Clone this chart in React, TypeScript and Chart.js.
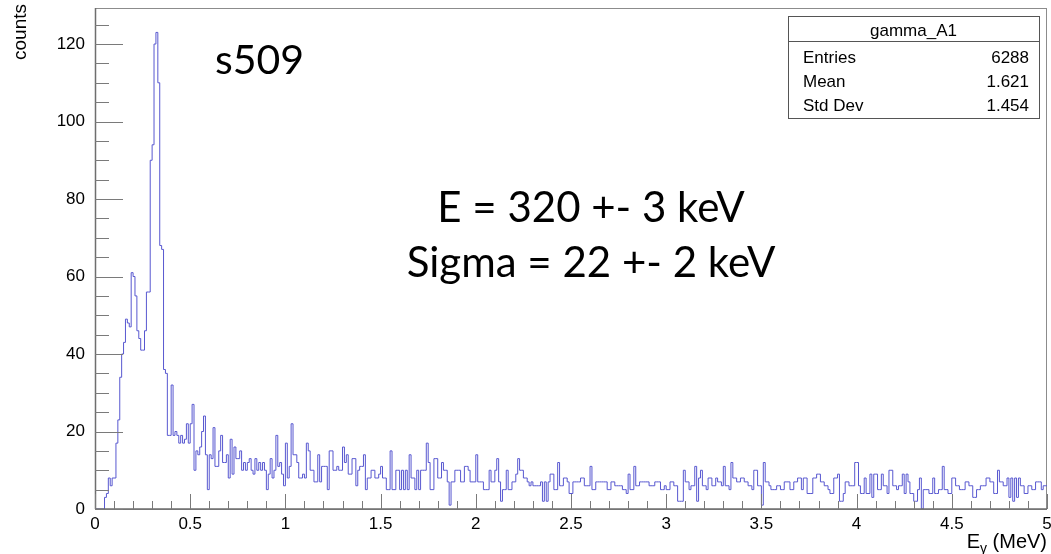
import React, { useEffect, useRef } from 'react';
import { Chart, registerables } from 'chart.js';

Chart.register(...registerables);

// Histogram gamma_A1: 500 bins of 0.01 MeV from 0 to 5 MeV
const binLow = 0;
const binWidth = 0.01;
const counts: number[] = [
  0, 0, 0, 0, 0, 3, 4, 8, 6, 8,
  8, 17, 23, 34, 40, 43, 49, 48, 47, 61,
  60, 55, 46, 44, 41, 41, 46, 56, 56, 90,
  94, 120, 123, 110, 68, 67, 36, 35, 19, 19,
  32, 19, 20, 19, 17, 19, 17, 18, 22, 17,
  22, 27, 10, 15, 14, 16, 20, 24, 14, 5,
  14, 13, 21, 11, 11, 15, 19, 12, 12, 14,
  8, 18, 9, 16, 13, 13, 15, 10, 12, 10,
  12, 13, 10, 9, 13, 10, 12, 10, 12, 10,
  5, 9, 13, 8, 10, 19, 11, 12, 9, 6,
  17, 8, 11, 22, 14, 14, 12, 8, 8, 9,
  8, 17, 15, 10, 10, 7, 7, 14, 7, 11,
  11, 11, 5, 15, 15, 10, 10, 11, 10, 10,
  16, 12, 14, 9, 9, 13, 13, 6, 10, 11,
  11, 14, 5, 8, 8, 10, 10, 8, 8, 9,
  11, 8, 8, 5, 5, 15, 5, 5, 10, 10,
  5, 10, 5, 10, 5, 14, 8, 8, 5, 10,
  5, 10, 10, 10, 17, 12, 5, 5, 13, 13,
  8, 8, 12, 10, 10, 7, 1, 7, 7, 10,
  10, 10, 7, 7, 11, 11, 10, 7, 7, 7,
  14, 7, 7, 7, 5, 5, 5, 10, 7, 7,
  10, 13, 7, 2, 5, 5, 10, 5, 5, 7,
  7, 9, 13, 10, 10, 8, 8, 7, 6, 7,
  6, 6, 6, 6, 7, 2, 7, 2, 7, 9,
  9, 5, 5, 12, 6, 6, 8, 8, 7, 4,
  4, 7, 7, 7, 7, 8, 8, 6, 6, 6,
  11, 5, 5, 7, 7, 7, 7, 7, 7, 5,
  5, 7, 7, 6, 6, 6, 6, 5, 5, 4,
  9, 5, 5, 11, 6, 6, 7, 7, 7, 7,
  7, 6, 6, 6, 7, 7, 7, 5, 5, 6,
  5, 5, 7, 7, 6, 6, 2, 2, 2, 10,
  7, 7, 5, 6, 6, 11, 2, 8, 10, 6,
  6, 5, 8, 8, 6, 6, 8, 7, 7, 6,
  11, 6, 6, 5, 12, 8, 8, 7, 7, 8,
  8, 7, 7, 6, 6, 5, 10, 10, 6, 6,
  1, 12, 7, 7, 6, 5, 5, 5, 6, 6,
  5, 5, 7, 7, 7, 5, 5, 7, 7, 8,
  8, 5, 8, 8, 4, 4, 4, 8, 8, 9,
  9, 7, 7, 6, 6, 5, 4, 4, 8, 8,
  9, 2, 2, 4, 7, 7, 6, 6, 6, 12,
  12, 6, 4, 4, 8, 4, 4, 9, 3, 9,
  9, 5, 5, 9, 6, 6, 4, 10, 10, 6,
  6, 5, 6, 6, 9, 4, 9, 7, 4, 4,
  2, 2, 5, 8, 0, 5, 5, 5, 4, 4,
  8, 4, 4, 5, 5, 11, 5, 5, 4, 4,
  8, 8, 6, 6, 5, 5, 5, 7, 7, 6,
  6, 3, 3, 5, 5, 6, 6, 6, 8, 8,
  7, 7, 4, 4, 10, 7, 7, 6, 6, 8,
  3, 8, 2, 8, 3, 8, 6, 6, 4, 4,
  6, 6, 5, 5, 7, 7, 7, 5, 6, 6,
];

const xMin = 0;
const xMax = 5;
const yMin = 0;
const yMax = 129.3;
const xTickValues = [0, 0.5, 1, 1.5, 2, 2.5, 3, 3.5, 4, 4.5, 5];
const xTickLabels = ['0', '0.5', '1', '1.5', '2', '2.5', '3', '3.5', '4', '4.5', '5'];
const yTickValues = [0, 20, 40, 60, 80, 100, 120];
const yTickLabels = ['0', '20', '40', '60', '80', '100', '120'];
const xMinorStep = 0.1;
const yMinorStep = 5;

const statsTitle = 'gamma_A1';
const statsNames = ['Entries', 'Mean', 'Std Dev'];
const statsValues = ['6288', '1.621', '1.454'];

const runLabel = 's509';
const fitLines = ['E = 320 +- 3 keV', 'Sigma = 22 +- 2 keV'];
const yTitle = 'counts';

const ROOT_FONT = '"Liberation Sans", Arial, sans-serif';
const NOTE_FONT = 'Lato, "Open Sans", sans-serif';

const rootDecor = {
  id: 'rootDecor',
  beforeDatasetsDraw(chart: any) {
    const { ctx, chartArea } = chart;
    const { left, right, top, bottom } = chartArea;
    ctx.save();
    ctx.strokeStyle = '#8c8c8c';
    ctx.lineWidth = 1;
    ctx.strokeRect(left + 0.5, top + 0.5, right - left - 1, bottom - top);
    ctx.restore();
  },
  afterDatasetsDraw(chart: any) {
    const { ctx, chartArea, scales } = chart;
    const { left, right, top, bottom } = chartArea;
    const xs = scales.x;
    const ys = scales.y;
    ctx.save();
    // axes
    ctx.strokeStyle = '#6e6e6e';
    ctx.lineWidth = 1.5;
    ctx.beginPath();
    ctx.moveTo(left, bottom);
    ctx.lineTo(right, bottom);
    ctx.moveTo(left + 0.5, bottom);
    ctx.lineTo(left + 0.5, top);
    ctx.stroke();
    // ticks
    ctx.strokeStyle = '#7a7a7a';
    ctx.lineWidth = 1;
    ctx.beginPath();
    for (let v = xMin; v <= xMax + 1e-9; v += xMinorStep) {
      const px = Math.round(xs.getPixelForValue(v)) + 0.5;
      const major = xTickValues.some((t) => Math.abs(t - v) < 1e-6);
      ctx.moveTo(px, bottom);
      ctx.lineTo(px, bottom - (major ? 15 : 8));
    }
    for (let v = yMin; v <= yMax + 1e-9; v += yMinorStep) {
      const py = Math.round(ys.getPixelForValue(v)) + 0.5;
      const major = yTickValues.some((t) => Math.abs(t - v) < 1e-6);
      ctx.moveTo(left, py);
      ctx.lineTo(left + (major ? 28 : 14), py);
    }
    ctx.stroke();

    // tick labels
    ctx.fillStyle = '#000';
    ctx.font = `17px ${ROOT_FONT}`;
    ctx.textAlign = 'center';
    ctx.textBaseline = 'alphabetic';
    xTickValues.forEach((v, i) => {
      ctx.fillText(xTickLabels[i], xs.getPixelForValue(v), bottom + 20);
    });
    ctx.textAlign = 'right';
    ctx.textBaseline = 'middle';
    yTickValues.forEach((v, i) => {
      ctx.fillText(yTickLabels[i], left - 10, ys.getPixelForValue(v));
    });
    ctx.restore();
  },
  afterDraw(chart: any) {
    const { ctx } = chart;
    ctx.save();
    // y title
    ctx.fillStyle = '#000';
    ctx.font = `19px ${ROOT_FONT}`;
    ctx.translate(21, 4);
    ctx.rotate(-Math.PI / 2);
    ctx.textAlign = 'right';
    ctx.textBaseline = 'middle';
    ctx.fillText(yTitle, 0, 0);
    ctx.restore();

    // x title E_gamma (MeV)
    ctx.save();
    ctx.fillStyle = '#000';
    ctx.textBaseline = 'alphabetic';
    ctx.textAlign = 'left';
    ctx.font = `20px ${ROOT_FONT}`;
    const w1 = ctx.measureText('E').width;
    ctx.font = `14px ${ROOT_FONT}`;
    const w2 = ctx.measureText('\u03b3').width;
    ctx.font = `20px ${ROOT_FONT}`;
    const w3 = ctx.measureText(' (MeV)').width;
    const xEnd = 1047;
    const xStart = xEnd - (w1 + w2 + w3);
    ctx.fillText('E', xStart, 548);
    ctx.font = `14px ${ROOT_FONT}`;
    ctx.fillText('\u03b3', xStart + w1, 553);
    ctx.font = `20px ${ROOT_FONT}`;
    ctx.fillText(' (MeV)', xStart + w1 + w2, 548);
    ctx.restore();

    // stats box
    ctx.save();
    const bx = 788, by = 16, bw = 251, bh = 102;
    ctx.fillStyle = '#fff';
    ctx.fillRect(bx, by, bw, bh);
    ctx.strokeStyle = '#555';
    ctx.lineWidth = 1;
    ctx.strokeRect(bx + 0.5, by + 0.5, bw, bh);
    ctx.beginPath();
    ctx.moveTo(bx, by + 25.5);
    ctx.lineTo(bx + bw, by + 25.5);
    ctx.stroke();
    ctx.fillStyle = '#000';
    ctx.font = `17px ${ROOT_FONT}`;
    ctx.textBaseline = 'alphabetic';
    ctx.textAlign = 'center';
    ctx.fillText(statsTitle, bx + bw / 2, by + 20);
    const rowBase = [63, 87, 111];
    statsNames.forEach((n, i) => {
      ctx.textAlign = 'left';
      ctx.fillText(n, bx + 15, rowBase[i]);
      ctx.textAlign = 'right';
      ctx.fillText(statsValues[i], bx + bw - 10, rowBase[i]);
    });
    ctx.restore();

    // annotations
    ctx.save();
    ctx.fillStyle = '#000';
    ctx.textBaseline = 'alphabetic';
    ctx.font = `41px ${NOTE_FONT}`;
    ctx.textAlign = 'left';
    ctx.fillText(runLabel, 215, 74);
    ctx.font = `42px ${NOTE_FONT}`;
    ctx.textAlign = 'center';
    ctx.fillText(fitLines[0], 591, 222);
    ctx.fillText(fitLines[1], 591, 277);
    ctx.restore();
  },
};

export default function App() {
  const canvasRef = useRef<HTMLCanvasElement | null>(null);

  useEffect(() => {
    document.body.style.margin = '0';
    const canvas = canvasRef.current;
    if (!canvas) return;
    const points = counts.map((c, i) => ({ x: binLow + i * binWidth, y: c }));
    points.push({ x: binLow + counts.length * binWidth, y: counts[counts.length - 1] });

    const chart = new Chart(canvas, {
      type: 'line',
      data: {
        datasets: [
          {
            data: points,
            stepped: true,
            borderColor: 'rgb(88, 88, 208)',
            borderWidth: 1,
            pointRadius: 0,
            fill: false,
            tension: 0,
          },
        ],
      },
      options: {
        animation: false,
        responsive: false,
        devicePixelRatio: 1,
        layout: { padding: { top: 8, right: 4, left: 0, bottom: 0 } },
        plugins: { legend: { display: false }, tooltip: { enabled: false } },
        scales: {
          x: {
            type: 'linear',
            min: xMin,
            max: xMax,
            grid: { display: false, drawTicks: false },
            border: { display: false },
            afterBuildTicks: (s: any) => {
              s.ticks = xTickValues.map((v) => ({ value: v }));
            },
            afterFit: (s: any) => {
              s.height = 45;
            },
            ticks: { display: false },
          },
          y: {
            type: 'linear',
            min: yMin,
            max: yMax,
            grid: { display: false, drawTicks: false },
            border: { display: false },
            afterBuildTicks: (s: any) => {
              s.ticks = yTickValues.map((v) => ({ value: v }));
            },
            afterFit: (s: any) => {
              s.width = 95;
            },
            ticks: { display: false },
          },
        },
      },
      plugins: [rootDecor],
    });
    return () => chart.destroy();
  }, []);

  return (
    <div style={{ width: 1051, height: 554 }}>
      <canvas ref={canvasRef} width={1051} height={554} style={{ display: 'block' }} />
    </div>
  );
}
